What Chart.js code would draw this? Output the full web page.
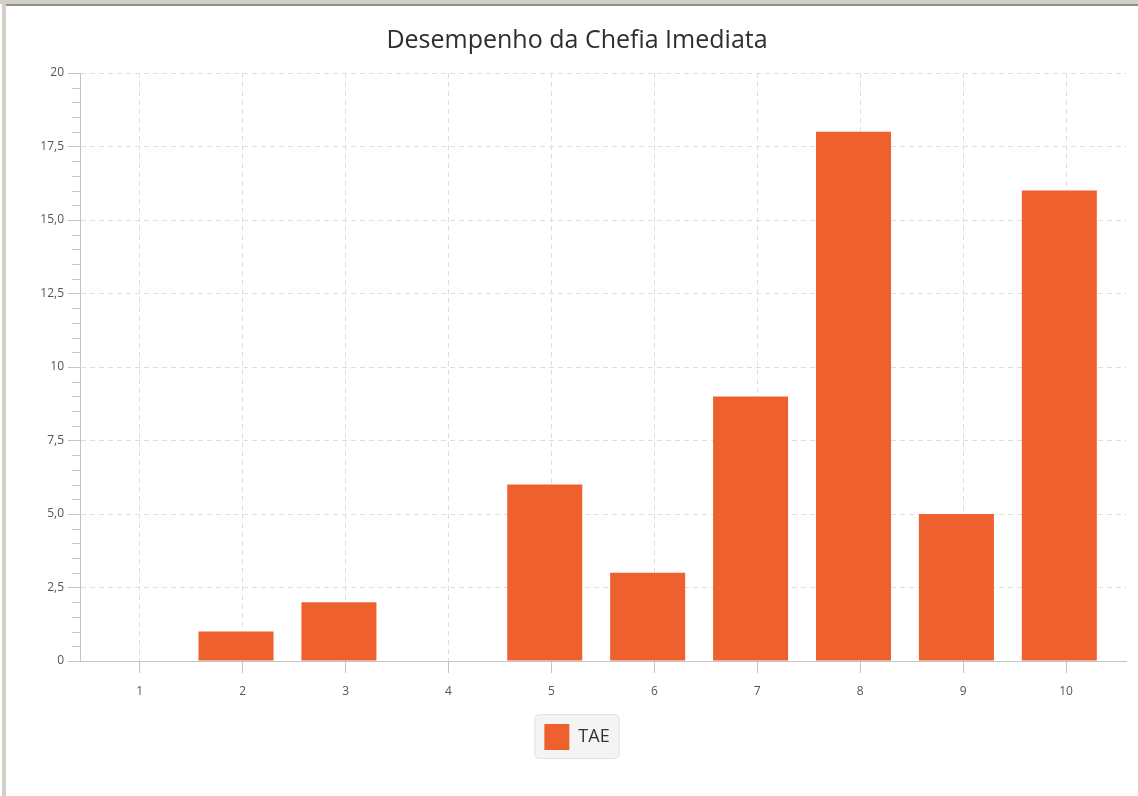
<!DOCTYPE html>
<html><head><meta charset="utf-8">
<script src="https://cdn.jsdelivr.net/npm/chart.js@4"></script>
<style>
html,body{margin:0;padding:0;background:#fff;}
#wrap{position:relative;width:1138px;height:796px;overflow:hidden;background:#fff;}
canvas{position:absolute;left:0;top:0;}
.ft{position:absolute;left:0;top:0;width:1138px;height:4px;background:#d4d0c8;}
.fl{position:absolute;left:4px;top:4px;width:1134px;height:2px;background:#8f8f8f;}
.lft{position:absolute;left:2px;top:0;width:4px;height:796px;background:#d4d0c8;}
</style></head>
<body><div id="wrap"><canvas id="c" width="1138" height="796"></canvas><div class="ft"></div><div class="fl"></div><div class="lft"></div></div>
<script>
const chartTitle = 'Desempenho da Chefia Imediata';
const seriesName = 'TAE';
const categories = ['1','2','3','4','5','6','7','8','9','10'];
const tae = [0, 1, 2, 0, 6, 3, 9, 18, 5, 16];
const yTickValues = [0, 2.5, 5, 7.5, 10, 12.5, 15, 17.5, 20];
const yTickLabels = ['0', '2,5', '5,0', '7,5', '10', '12,5', '15,0', '17,5', '20'];
const xTickValues = categories.map(Number);

const X_MIN = 0.419, X_MAX = 10.583, BAR_SHIFT = 0.065;

const legendBg = {
  id: 'legendBg',
  beforeDraw(chart) {
    const lg = chart.legend;
    if (!lg || !lg.legendHitBoxes || !lg.legendHitBoxes.length) return;
    const h = lg.legendHitBoxes[0];
    const x = h.left - 9.5, y = h.top - 9.5, w = h.width + 19, ht = h.height + 18, r = 5;
    const ctx = chart.ctx;
    ctx.save();
    ctx.beginPath();
    ctx.moveTo(x + r, y);
    ctx.lineTo(x + w - r, y); ctx.quadraticCurveTo(x + w, y, x + w, y + r);
    ctx.lineTo(x + w, y + ht - r); ctx.quadraticCurveTo(x + w, y + ht, x + w - r, y + ht);
    ctx.lineTo(x + r, y + ht); ctx.quadraticCurveTo(x, y + ht, x, y + ht - r);
    ctx.lineTo(x, y + r); ctx.quadraticCurveTo(x, y, x + r, y);
    ctx.closePath();
    ctx.fillStyle = '#f4f4f4';
    ctx.fill();
    ctx.strokeStyle = '#e2e2e2';
    ctx.lineWidth = 1;
    ctx.stroke();
    ctx.restore();
  }
};

const minorTicks = {
  id: 'minorTicks',
  afterDraw(chart) {
    const s = chart.scales.y;
    const ctx = chart.ctx;
    ctx.save();
    ctx.strokeStyle = '#c4c4c4';
    ctx.lineWidth = 1;
    for (let i = 0; i < yTickValues.length - 1; i++) {
      const a = yTickValues[i], b = yTickValues[i + 1];
      for (let k = 1; k < 5; k++) {
        const v = a + (b - a) * k / 5;
        const py = Math.round(s.getPixelForValue(v)) + 0.5;
        ctx.beginPath();
        ctx.moveTo(s.right - 8, py);
        ctx.lineTo(s.right, py);
        ctx.stroke();
      }
    }
    ctx.restore();
  }
};

const setXTicks = s => { s.ticks = xTickValues.map(v => ({value: v})); };

new Chart(document.getElementById('c'), {
  type: 'bar',
  data: {
    datasets: [{
      label: seriesName,
      data: categories.map((c, i) => ({x: Number(c), y: tae[i]})),
      xAxisID: 'xBars',
      backgroundColor: '#ee612f',
      borderColor: '#f3946c',
      borderWidth: 0,
      categoryPercentage: 1,
      barPercentage: 0.729
    }]
  },
  options: {
    responsive: false,
    animation: false,
    devicePixelRatio: 1,
    layout: { padding: { left: 28, right: 12, top: 0, bottom: 36 } },
    plugins: {
      title: {
        display: true, text: chartTitle,
        color: '#2e2e2e',
        font: { family: 'Open Sans', size: 25, weight: 'normal', lineHeight: 1.2 },
        padding: { top: 26, bottom: 17 }
      },
      legend: {
        display: true, position: 'bottom',
        labels: {
          boxWidth: 25, boxHeight: 26, padding: 10,
          color: '#333',
          font: { family: 'Open Sans', size: 18 }
        }
      },
      tooltip: { enabled: false }
    },
    scales: {
      x: {
        type: 'linear', min: X_MIN, max: X_MAX, offset: false,
        afterBuildTicks: setXTicks,
        afterFit: s => { s.height = 53; },
        ticks: {
          autoSkip: false, padding: 11,
          color: '#555', font: { family: 'Open Sans', size: 12 },
          callback: v => categories[xTickValues.indexOf(v)]
        },
        grid: { offset: false, color: '#dedede', tickColor: '#c4c4c4', tickLength: 12, drawOnChartArea: true },
        border: { display: true, color: '#c4c4c4', dash: [5, 4] }
      },
      xBars: {
        type: 'linear', display: false, offset: false,
        min: X_MIN + BAR_SHIFT, max: X_MAX + BAR_SHIFT,
        afterBuildTicks: setXTicks,
        grid: { display: false, offset: false }
      },
      y: {
        min: 0, max: 20,
        afterBuildTicks: s => { s.ticks = yTickValues.map(v => ({value: v})); },
        afterFit: s => { s.width = 52; },
        ticks: {
          padding: 4,
          color: '#555', font: { family: 'Open Sans', size: 12 },
          callback: v => yTickLabels[yTickValues.indexOf(v)]
        },
        grid: { color: '#dedede', tickColor: '#c4c4c4', tickLength: 12 },
        border: { display: true, color: '#c4c4c4', dash: [5, 4] }
      }
    }
  },
  plugins: [legendBg, minorTicks]
});
</script>
</body></html>
